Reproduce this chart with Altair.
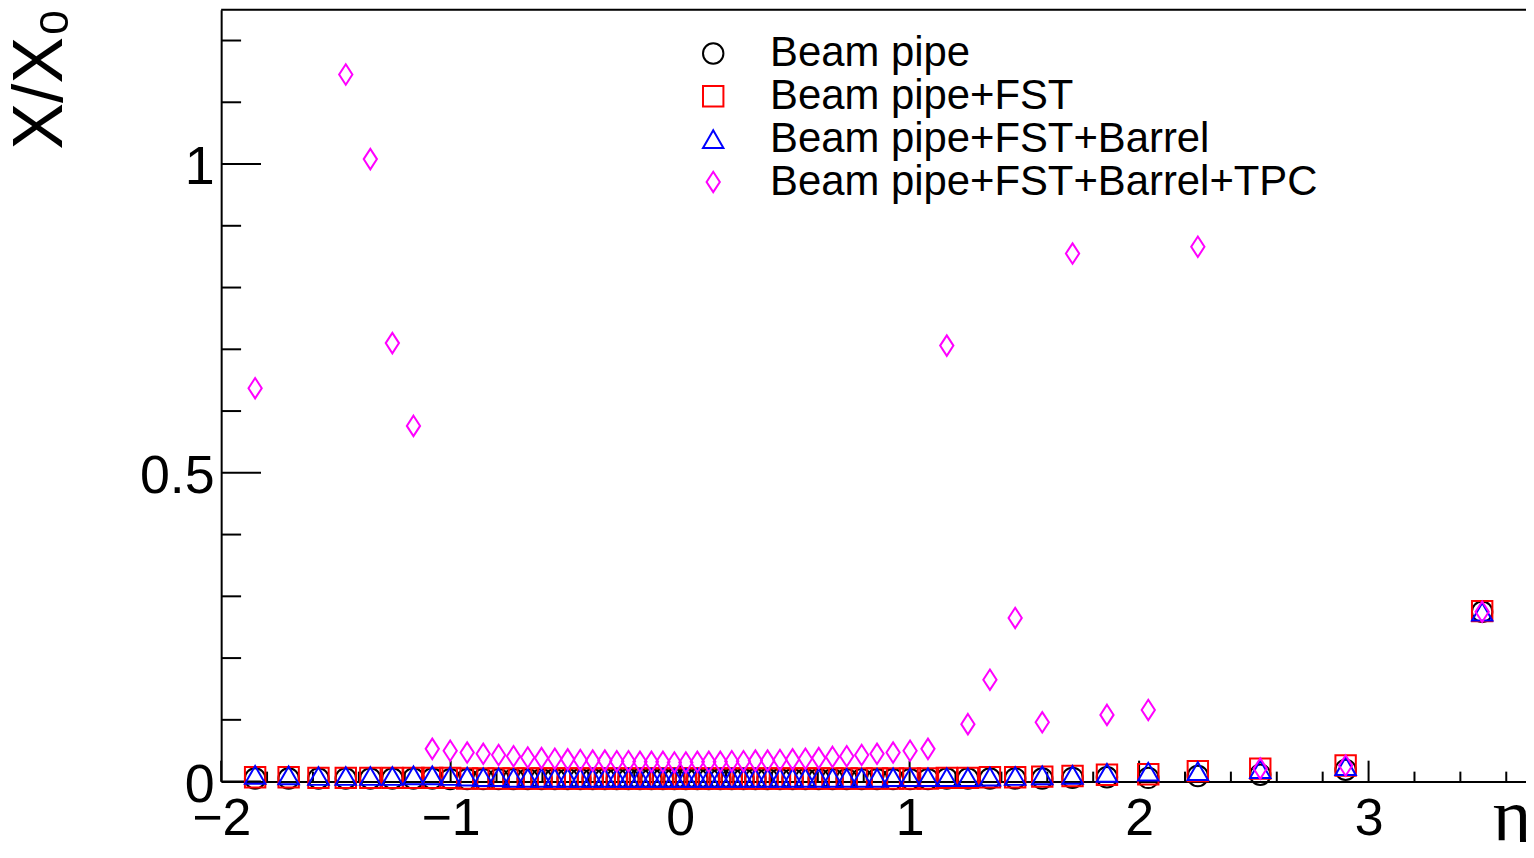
import altair as alt
import pandas as pd

# ---------------- data ----------------
eta = [-1.852, -1.706, -1.576, -1.457, -1.350, -1.254, -1.162, -1.080, -1.002, -0.928,
       -0.858, -0.791, -0.726, -0.664, -0.604, -0.546, -0.490, -0.435, -0.381, -0.328,
       -0.276, -0.225, -0.175, -0.125, -0.075, -0.025,
       0.025, 0.075, 0.125, 0.175, 0.225, 0.276, 0.328, 0.381, 0.435, 0.490,
       0.546, 0.604, 0.664, 0.726, 0.791, 0.858, 0.928, 1.002, 1.080, 1.162,
       1.254, 1.350, 1.460, 1.578, 1.710, 1.860, 2.040, 2.256, 2.528, 2.900, 3.495]

beam_pipe = [0.005, 0.005, 0.005, 0.005, 0.005, 0.005, 0.005, 0.005, 0.004, 0.004,
             0.004, 0.004, 0.004, 0.004, 0.004, 0.004, 0.004, 0.004, 0.004, 0.004,
             0.004, 0.004, 0.004, 0.004, 0.004, 0.004,
             0.004, 0.004, 0.004, 0.004, 0.004, 0.004, 0.004, 0.004, 0.004, 0.004,
             0.004, 0.004, 0.004, 0.004, 0.004, 0.004, 0.004, 0.004, 0.004, 0.005,
             0.005, 0.005, 0.005, 0.005, 0.006, 0.007, 0.006, 0.009, 0.011, 0.019, 0.275]

bp_fst = [0.007, 0.007, 0.006, 0.006, 0.006, 0.006, 0.006, 0.006, 0.006, 0.005,
          0.005, 0.005, 0.005, 0.005, 0.005, 0.005, 0.005, 0.005, 0.005, 0.005,
          0.005, 0.005, 0.005, 0.005, 0.005, 0.005,
          0.005, 0.005, 0.005, 0.005, 0.005, 0.005, 0.005, 0.005, 0.005, 0.005,
          0.005, 0.005, 0.005, 0.005, 0.005, 0.005, 0.005, 0.005, 0.005, 0.006,
          0.006, 0.007, 0.007, 0.008, 0.009, 0.011, 0.012, 0.017, 0.021, 0.026, 0.276]

bp_fst_barrel = [0.011, 0.010, 0.009, 0.009, 0.009, 0.009, 0.010, 0.010, 0.009, 0.008,
                 0.007, 0.007, 0.006, 0.006, 0.006, 0.006, 0.006, 0.006, 0.006, 0.006,
                 0.006, 0.006, 0.006, 0.006, 0.006, 0.006,
                 0.006, 0.006, 0.006, 0.006, 0.006, 0.006, 0.006, 0.006, 0.006, 0.006,
                 0.006, 0.006, 0.006, 0.006, 0.006, 0.006, 0.007, 0.007, 0.007, 0.007,
                 0.007, 0.008, 0.009, 0.010, 0.011, 0.014, 0.016, 0.017, 0.020, 0.025, 0.275]

bp_fst_barrel_tpc = [0.637, 1.420, 1.310, 1.145, 1.008, 0.710, 0.576, 0.053, 0.050, 0.047,
                     0.045, 0.043, 0.041, 0.039, 0.038, 0.037, 0.036, 0.035, 0.034, 0.034,
                     0.033, 0.033, 0.032, 0.032, 0.032, 0.031,
                     0.031, 0.032, 0.032, 0.032, 0.033, 0.033, 0.034, 0.034, 0.035, 0.036,
                     0.037, 0.038, 0.040, 0.041, 0.043, 0.045, 0.047, 0.050, 0.053, 0.706,
                     0.093, 0.165, 0.265, 0.096, 0.855, 0.108, 0.116, 0.866, 0.021, 0.026, 0.275]

series_names = ["Beam pipe", "Beam pipe+FST", "Beam pipe+FST+Barrel", "Beam pipe+FST+Barrel+TPC"]
series_values = [beam_pipe, bp_fst, bp_fst_barrel, bp_fst_barrel_tpc]
series_colors = ["#000000", "#ff0000", "#0000ff", "#ff00ff"]
series_shapes = ["circle", "square", "triangle-up", "M0,-1L0.65,0L0,1L-0.65,0Z"]
series_sizes = [420, 420, 560, 480]

x_major = [-2, -1, 0, 1, 2, 3]
x_minor = [-1.8, -1.6, -1.4, -1.2, -0.8, -0.6, -0.4, -0.2, 0.2, 0.4, 0.6, 0.8,
           1.2, 1.4, 1.6, 1.8, 2.2, 2.4, 2.6, 2.8, 3.2, 3.4, 3.6]
y_major = [0, 0.5, 1]
y_minor = [0.1, 0.2, 0.3, 0.4, 0.6, 0.7, 0.8, 0.9, 1.1, 1.2]

rows = []
for name, vals in zip(series_names, series_values):
    for e, v in zip(eta, vals):
        rows.append({"eta": e, "xx0": v, "series": name})
df = pd.DataFrame(rows)

W, H = 1310, 775
FONT = "Liberation Sans"

xscale = alt.Scale(domain=[-2, 3.686], nice=False, zero=False)
yscale = alt.Scale(domain=[0, 1.25], nice=False, zero=False)

x_axis = alt.Axis(values=x_major, title="η", grid=False, ticks=False, tickSize=0,
                  domainColor="black", domainWidth=2, labelFont=FONT, labelFontSize=52,
                  labelColor="black", labelPadding=12, labelFlush=False, labelOverlap=False,
                  titleFont="Liberation Serif", titleFontSize=74, titleFontWeight="normal",
                  titleColor="black", titleAlign="left", titleBaseline="alphabetic",
                  titleX=1276, titleY=58)
y_axis = alt.Axis(values=y_major, title="X/X₀", grid=False, ticks=False, tickSize=0,
                  domainColor="black", domainWidth=2, labelFont=FONT, labelFontSize=54,
                  labelColor="black", labelPadding=7, labelOffset=4, labelFlush=False,
                  labelOverlap=False, labelExpr="datum.value + ''",
                  titleFont=FONT, titleFontSize=70, titleFontWeight="normal", titleColor="black",
                  titleAngle=270, titleAlign="right", titleBaseline="alphabetic",
                  titleX=-160, titleY=-2)

legend = alt.Legend(title=None, orient="none", legendX=473, legendY=23, padding=0,
                    labelFont=FONT, labelFontSize=42, labelColor="black", labelLimit=2000,
                    labelOffset=36, rowPadding=1, symbolSize=400, symbolStrokeWidth=2)

points = alt.Chart(df).mark_point(filled=False, strokeWidth=2, opacity=1).encode(
    x=alt.X("eta:Q", scale=xscale, axis=x_axis),
    y=alt.Y("xx0:Q", scale=yscale, axis=y_axis),
    color=alt.Color("series:N", scale=alt.Scale(domain=series_names, range=series_colors),
                    legend=legend),
    shape=alt.Shape("series:N", scale=alt.Scale(domain=series_names, range=series_shapes),
                    legend=legend),
    size=alt.Size("series:N", scale=alt.Scale(domain=series_names, range=series_sizes),
                  legend=None),
)

ymaj = alt.Chart(pd.DataFrame({"v": y_major})).mark_rule(color="black", strokeWidth=2).encode(
    y=alt.Y("v:Q", scale=yscale, axis=y_axis), x=alt.value(0), x2=alt.value(40))
ymin = alt.Chart(pd.DataFrame({"v": y_minor})).mark_rule(color="black", strokeWidth=2).encode(
    y=alt.Y("v:Q", scale=yscale, axis=y_axis), x=alt.value(0), x2=alt.value(20))
xmaj = alt.Chart(pd.DataFrame({"v": x_major})).mark_rule(color="black", strokeWidth=2).encode(
    x=alt.X("v:Q", scale=xscale, axis=x_axis), y=alt.value(H), y2=alt.value(H - 21))
xmin = alt.Chart(pd.DataFrame({"v": x_minor})).mark_rule(color="black", strokeWidth=2).encode(
    x=alt.X("v:Q", scale=xscale, axis=x_axis), y=alt.value(H), y2=alt.value(H - 10))
topframe = alt.Chart(pd.DataFrame({"v": [0]})).mark_rule(color="black", strokeWidth=2).encode(
    x=alt.value(0), x2=alt.value(W), y=alt.value(0))

chart = alt.layer(ymaj, ymin, xmaj, xmin, topframe, points).properties(
    width=W, height=H,
    padding={"left": 214, "top": 0, "right": 0, "bottom": 59},
    autosize=alt.AutoSizeParams(type="none"),
).configure_view(stroke="transparent").configure(font=FONT, background="white")

chart.save("out.html", embed_options={"renderer": "svg", "actions": False})
